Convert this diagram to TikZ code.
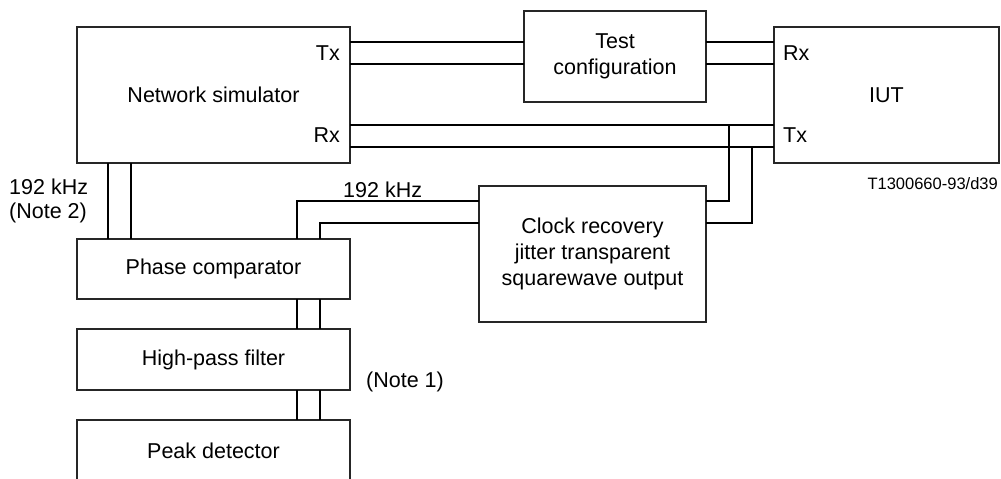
\documentclass[tikz,border=0pt]{standalone}
\usepackage{fontspec}
\setmainfont{Liberation Sans}
\begin{document}
\begin{tikzpicture}[x=1pt,y=-1pt,
  box/.style={draw=black!85, line width=1.1pt, inner sep=0pt, align=center,
    font=\fontsize{21.5}{26}\selectfont},
  lbl/.style={inner sep=0pt, font=\fontsize{21.5}{24}\selectfont},
  small/.style={inner sep=0pt, font=\fontsize{16.5}{20}\selectfont},
  wire/.style={line width=1.9pt, line cap=rect}]
\path[use as bounding box, clip] (0,0) rectangle (1001,479);

% boxes
\node[box, minimum width=273pt, minimum height=136pt] (ns) at (213.5,95) {Network simulator};
\node[box, minimum width=182pt, minimum height=91pt] (tc) at (615,56.5) {Test\\configuration};
\node[box, minimum width=225pt, minimum height=136pt] (iut) at (886.5,95) {IUT};
\node[box, minimum width=227pt, minimum height=136pt] (cr) at (592.5,254) {Clock recovery\\jitter transparent\\squarewave output};
\node[box, minimum width=273pt, minimum height=60pt] (pc) at (213.5,269) {Phase comparator};
\node[box, minimum width=273pt, minimum height=61pt] (hp) at (213.5,359.5) {High-pass filter};
\node[box, minimum width=273pt, minimum height=62pt] (pd) at (213.5,451) {Peak detector};

% port labels
\node[lbl, anchor=base east] (nstx) at (340,60) {Tx};
\node[lbl, anchor=base east] (nsrx) at (340,142) {Rx};
\node[lbl, anchor=base west] (iutrx) at (783,60) {Rx};
\node[lbl, anchor=base west] (iuttx) at (783,142) {Tx};

% other labels
\node[lbl, anchor=west, align=left] (n2) at (9,201) {192 kHz\\(Note 2)};
\node[lbl, anchor=base west] (khz) at (343,197) {192 kHz};
\node[lbl, anchor=west] (n1) at (366,382) {(Note 1)};
\node[small, anchor=base east] (ref) at (998,189) {T1300660-93/d39};

% level coordinates
\coordinate (ya) at (0,42);
\coordinate (yb) at (0,64);
\coordinate (yc) at (0,125);
\coordinate (yd) at (0,147);
\coordinate (ye) at (0,201);
\coordinate (yf) at (0,223);
\coordinate (xa) at (108,0);
\coordinate (xb) at (131,0);
\coordinate (xc) at (297,0);
\coordinate (xd) at (320,0);
\coordinate (ta) at (729,125);
\coordinate (tb) at (752,147);

% wires
\draw[wire] (ns.east |- ya) -- (tc.west |- ya);
\draw[wire] (ns.east |- yb) -- (tc.west |- yb);
\draw[wire] (tc.east |- ya) -- (iut.west |- ya);
\draw[wire] (tc.east |- yb) -- (iut.west |- yb);
\draw[wire] (ns.east |- yc) -- (iut.west |- yc);
\draw[wire] (ns.east |- yd) -- (iut.west |- yd);
\draw[wire] (ta) |- (cr.east |- ye);
\draw[wire] (tb) |- (cr.east |- yf);
\draw[wire] (ns.south -| xa) -- (pc.north -| xa);
\draw[wire] (ns.south -| xb) -- (pc.north -| xb);
\draw[wire] (cr.west |- ye) -| (pc.north -| xc);
\draw[wire] (cr.west |- yf) -| (pc.north -| xd);
\draw[wire] (pc.south -| xc) -- (hp.north -| xc);
\draw[wire] (pc.south -| xd) -- (hp.north -| xd);
\draw[wire] (hp.south -| xc) -- (pd.north -| xc);
\draw[wire] (hp.south -| xd) -- (pd.north -| xd);
\end{tikzpicture}
\end{document}
